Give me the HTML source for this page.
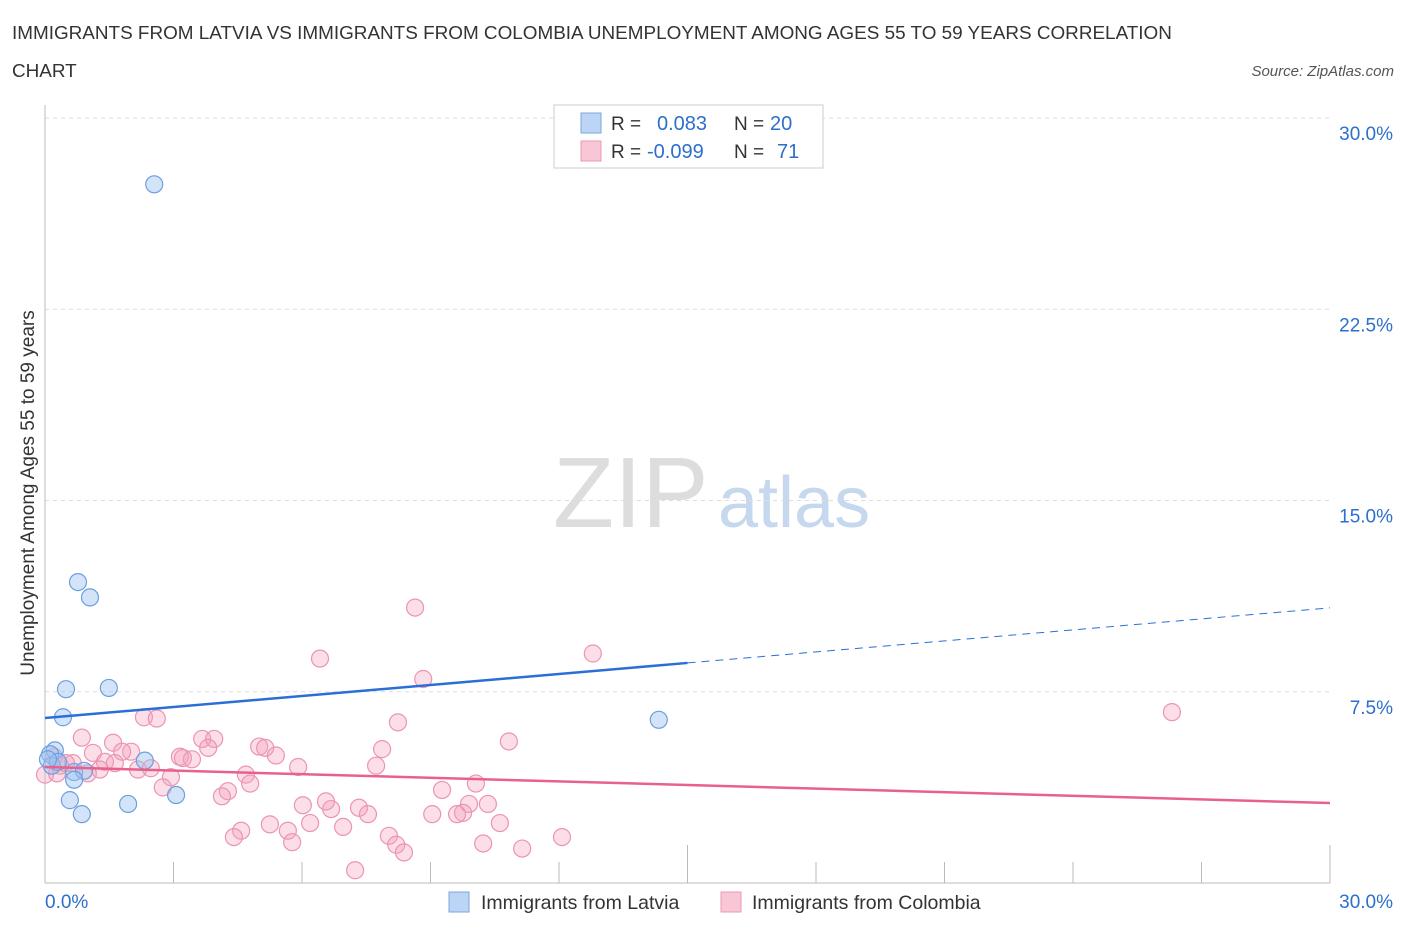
<!DOCTYPE html>
<html><head><meta charset="utf-8"><style>
body{margin:0;background:#fff;font-family:"Liberation Sans",sans-serif;}
svg text{font-family:"Liberation Sans",sans-serif;}
</style></head><body>
<svg id="c" width="1406" height="930">
<text x="12" y="39" font-size="18.9" fill="#333">IMMIGRANTS FROM LATVIA VS IMMIGRANTS FROM COLOMBIA UNEMPLOYMENT AMONG AGES 55 TO 59 YEARS CORRELATION</text>
<text x="12" y="77" font-size="18.9" fill="#333">CHART</text>
<text x="1394" y="76" font-size="15" fill="#555" font-style="italic" text-anchor="end">Source: ZipAtlas.com</text>
<text x="553" y="527" font-size="100" fill="#ddd" font-family="Liberation Serif">ZIP</text>
<text x="718" y="527" font-size="72" fill="#c5d8ee">atlas</text>
<g id="grid"></g><g id="axes"></g><g id="pts"></g><g id="lines"></g>
<text x="34" y="493" font-size="19" fill="#333" text-anchor="middle" transform="rotate(-90 34 493)">Unemployment Among Ages 55 to 59 years</text>
<g>
<rect x="554" y="105" width="269" height="63" fill="#fff" stroke="#ccc"/>
<rect x="581" y="113" width="20" height="20" fill="#bcd5f5" stroke="#7aa6e0"/>
<rect x="581" y="141" width="20" height="20" fill="#f9c6d6" stroke="#e99ab4"/>
<text x="611" y="130" font-size="19" fill="#333">R = </text><text x="657" y="130" font-size="20" fill="#2d6fcc">0.083</text>
<text x="734" y="130" font-size="19" fill="#333">N = </text><text x="770" y="130" font-size="20" fill="#2d6fcc">20</text>
<text x="611" y="158" font-size="19" fill="#333">R = </text><text x="647" y="158" font-size="20" fill="#2d6fcc">-0.099</text>
<text x="734" y="158" font-size="19" fill="#333">N = </text><text x="777" y="158" font-size="20" fill="#2d6fcc">71</text>
</g>
<g>
<rect x="449" y="892" width="20" height="20" fill="#bcd5f5" stroke="#7aa6e0"/>
<text x="481" y="909" font-size="19.5" fill="#333">Immigrants from Latvia</text>
<rect x="721" y="892" width="20" height="20" fill="#f9c6d6" stroke="#e99ab4"/>
<text x="752" y="909" font-size="19.5" fill="#333">Immigrants from Colombia</text>
</g>
</svg>
<script>
const yTicks=[7.5,15,22.5,30];
const yTickLabels=["7.5%","15.0%","22.5%","30.0%"];
const xTicks=[0,3,6,9,12,15,18,21,24,27,30];
const latviaX=[2.55,0.77,1.05,0.49,1.49,0.42,14.33,0.23,0.12,2.33,0.16,0.68,0.91,0.68,0.58,1.94,0.86,3.06,0.30,0.07];
const latviaY=[27.4,11.8,11.2,7.6,7.65,6.5,6.4,5.2,5.05,4.8,4.6,4.35,4.4,4.05,3.25,3.1,2.7,3.45,4.75,4.85];
const colombiaX=[8.64,6.42,12.79,8.83,26.31,2.31,2.61,8.24,0.86,3.67,3.95,10.83,3.81,1.59,5.00,5.14,2.01,1.80,1.12,7.87,5.39,3.15,3.43,3.22,0.21,0.65,1.40,0.35,1.63,1.28,2.17,2.47,5.91,7.73,4.69,2.94,0.28,0,10.06,2.75,4.79,4.27,9.27,4.13,6.02,6.68,6.56,7.33,7.54,9.90,10.34,9.76,9.62,9.04,6.19,10.62,5.25,5.67,6.96,4.58,4.41,8.03,5.77,12.07,8.20,10.23,11.14,8.38,7.24,0.49,1.00];
const colombiaY=[10.8,8.8,9.0,8.0,6.7,6.5,6.45,6.3,5.7,5.65,5.65,5.55,5.3,5.5,5.35,5.3,5.15,5.15,5.1,5.25,5.0,4.95,4.85,4.9,4.95,4.7,4.75,4.6,4.7,4.45,4.45,4.5,4.55,4.6,4.25,4.15,4.3,4.25,3.9,3.75,3.9,3.6,3.65,3.4,3.05,2.9,3.2,2.95,2.7,3.1,3.1,2.75,2.7,2.7,2.35,2.35,2.3,2.05,2.2,2.05,1.8,1.85,1.6,1.8,1.5,1.55,1.35,1.2,0.5,4.7,4.3];
const latviaTrend=[6.47,0.144];   // intercept, slope (per % x)
const colombiaTrend=[4.55,-0.0471];
const X=v=>45+v*42.833, Y=v=>883-v*25.5;
const NS="http://www.w3.org/2000/svg";
function mk(g,t,a){const e=document.createElementNS(NS,t);for(const k in a)e.setAttribute(k,a[k]);document.getElementById(g).appendChild(e);return e;}
yTicks.forEach((t,i)=>{
 const l=mk('grid','line',{x1:45,x2:1330,y1:Y(t),y2:Y(t),stroke:'#ddd','stroke-dasharray':'4,4'});
 
 
 const tx=mk('grid','text',{x:1393,y:Y(t)+22,'font-size':19,fill:'#2d6fcc','text-anchor':'end'});
 tx.textContent=yTickLabels[i];
 
 
});
mk('axes','line',{x1:45,x2:45,y1:105,y2:883,stroke:'#bbb'});
mk('axes','line',{x1:45,x2:1330,y1:883,y2:883,stroke:'#bbb'});
xTicks.forEach((t,i)=>{if(i==0)return;const tall=(t==15||t==30);
 const l=mk('axes','line',{x1:X(t),x2:X(t),y1:tall?845:862,y2:883,stroke:'#bbb'});
 
 });
let a=mk('axes','text',{x:45,y:908,'font-size':19,fill:'#2d6fcc'});a.textContent='0.0%';


a=mk('axes','text',{x:1393,y:908,'font-size':19,fill:'#2d6fcc','text-anchor':'end'});a.textContent='30.0%';


colombiaX.forEach((x,i)=>{const c=mk('pts','circle',{cx:X(x),cy:Y(colombiaY[i]),r:8.5,fill:'rgba(244,160,188,0.35)',stroke:'#ec94b2','stroke-width':1.2});
 
 });
latviaX.forEach((x,i)=>{const c=mk('pts','circle',{cx:X(x),cy:Y(latviaY[i]),r:8.5,fill:'rgba(160,196,240,0.45)',stroke:'#6c9fe0','stroke-width':1.2});
 
 });
const ly=x=>latviaTrend[0]+latviaTrend[1]*x, cy=x=>colombiaTrend[0]+colombiaTrend[1]*x;
let l=mk('lines','line',{x1:X(0),y1:Y(ly(0)),x2:X(15),y2:Y(ly(15)),stroke:'#2b6fd6','stroke-width':2.5});


l=mk('lines','line',{x1:X(15),y1:Y(ly(15)),x2:X(30),y2:Y(ly(30)),stroke:'#2b6fd6','stroke-width':1,'stroke-dasharray':'8,6'});


l=mk('lines','line',{x1:X(0),y1:Y(cy(0)),x2:X(30),y2:Y(cy(30)),stroke:'#e8608d','stroke-width':2.5});


</script>
</body></html>
